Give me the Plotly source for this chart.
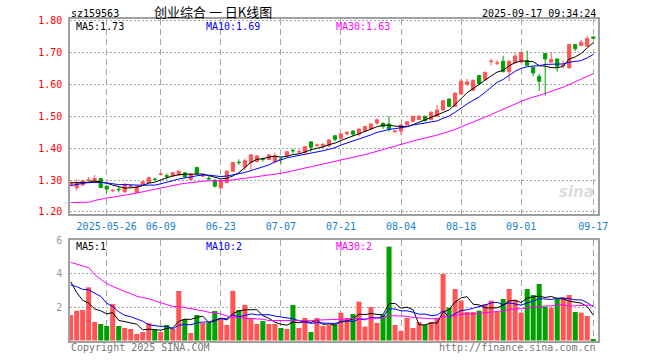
import plotly.graph_objects as go
import pandas as pd

# ---------------- data ----------------
dates = [
    "2025-05-16", "2025-05-19", "2025-05-20", "2025-05-21", "2025-05-22", "2025-05-23",
    "2025-05-26", "2025-05-27", "2025-05-28", "2025-05-29", "2025-05-30",
    "2025-06-03", "2025-06-04", "2025-06-05", "2025-06-06", "2025-06-09", "2025-06-10",
    "2025-06-11", "2025-06-12", "2025-06-13", "2025-06-16", "2025-06-17", "2025-06-18",
    "2025-06-19", "2025-06-20", "2025-06-23", "2025-06-24", "2025-06-25", "2025-06-26",
    "2025-06-27", "2025-06-30",
    "2025-07-01", "2025-07-02", "2025-07-03", "2025-07-04", "2025-07-07", "2025-07-08",
    "2025-07-09", "2025-07-10", "2025-07-11", "2025-07-14", "2025-07-15", "2025-07-16",
    "2025-07-17", "2025-07-18", "2025-07-21", "2025-07-22", "2025-07-23", "2025-07-24",
    "2025-07-25", "2025-07-28", "2025-07-29", "2025-07-30", "2025-07-31",
    "2025-08-01", "2025-08-04", "2025-08-05", "2025-08-06", "2025-08-07", "2025-08-08",
    "2025-08-11", "2025-08-12", "2025-08-13", "2025-08-14", "2025-08-15", "2025-08-18",
    "2025-08-19", "2025-08-20", "2025-08-21", "2025-08-22", "2025-08-25", "2025-08-26",
    "2025-08-27", "2025-08-28", "2025-08-29",
    "2025-09-01", "2025-09-02", "2025-09-03", "2025-09-04", "2025-09-05", "2025-09-08",
    "2025-09-09", "2025-09-10", "2025-09-11", "2025-09-12", "2025-09-15", "2025-09-16",
    "2025-09-17",
]

opens = [
    1.284, 1.276, 1.285, 1.299, 1.295, 1.305, 1.281, 1.267, 1.271, 1.263,
    1.279, 1.261, 1.284, 1.292, 1.303, 1.318, 1.314, 1.313, 1.316, 1.323,
    1.302, 1.340, 1.312, 1.306, 1.300, 1.276, 1.292, 1.328, 1.356, 1.341,
    1.356, 1.358, 1.366, 1.365, 1.358, 1.366, 1.376, 1.393, 1.388, 1.386,
    1.420, 1.409, 1.405, 1.407, 1.439, 1.431, 1.445, 1.454, 1.444, 1.454,
    1.460, 1.479, 1.478, 1.476, 1.452, 1.454, 1.473, 1.484, 1.490, 1.500,
    1.490, 1.500, 1.520, 1.554, 1.531, 1.570, 1.600, 1.582, 1.628, 1.615,
    1.672, 1.667, 1.673, 1.640, 1.668, 1.670, 1.675, 1.654, 1.625, 1.697,
    1.670, 1.680, 1.659, 1.652, 1.725, 1.722, 1.720, 1.749,
]
highs = [
    1.296, 1.302, 1.300, 1.310, 1.316, 1.306, 1.283, 1.272, 1.279, 1.290,
    1.285, 1.283, 1.297, 1.311, 1.308, 1.323, 1.321, 1.325, 1.330, 1.324,
    1.321, 1.341, 1.320, 1.315, 1.301, 1.299, 1.330, 1.357, 1.365, 1.368,
    1.381, 1.378, 1.371, 1.381, 1.386, 1.373, 1.391, 1.399, 1.396, 1.407,
    1.421, 1.415, 1.417, 1.428, 1.440, 1.447, 1.453, 1.456, 1.462, 1.470,
    1.478, 1.493, 1.481, 1.500, 1.457, 1.475, 1.485, 1.502, 1.505, 1.502,
    1.515, 1.536, 1.551, 1.556, 1.575, 1.618, 1.618, 1.615, 1.630, 1.640,
    1.680, 1.677, 1.690, 1.675, 1.700, 1.702, 1.706, 1.657, 1.634, 1.698,
    1.700, 1.681, 1.675, 1.727, 1.727, 1.740, 1.752, 1.750,
]
lows = [
    1.280, 1.268, 1.281, 1.290, 1.291, 1.276, 1.260, 1.262, 1.261, 1.262,
    1.275, 1.258, 1.282, 1.290, 1.298, 1.314, 1.302, 1.311, 1.314, 1.308,
    1.300, 1.318, 1.310, 1.298, 1.277, 1.272, 1.290, 1.326, 1.347, 1.331,
    1.331, 1.356, 1.358, 1.363, 1.353, 1.351, 1.374, 1.384, 1.382, 1.384,
    1.389, 1.404, 1.403, 1.405, 1.421, 1.429, 1.440, 1.437, 1.437, 1.452,
    1.458, 1.474, 1.461, 1.452, 1.448, 1.441, 1.471, 1.482, 1.488, 1.484,
    1.488, 1.498, 1.518, 1.529, 1.529, 1.568, 1.595, 1.580, 1.600, 1.613,
    1.660, 1.660, 1.638, 1.610, 1.666, 1.668, 1.658, 1.626, 1.580, 1.565,
    1.668, 1.640, 1.650, 1.650, 1.705, 1.720, 1.718, 1.744,
]
closes = [
    1.292, 1.292, 1.298, 1.300, 1.305, 1.277, 1.272, 1.268, 1.270, 1.287,
    1.282, 1.281, 1.295, 1.308, 1.302, 1.319, 1.312, 1.323, 1.328, 1.310,
    1.319, 1.320, 1.318, 1.304, 1.281, 1.297, 1.328, 1.355, 1.355, 1.361,
    1.379, 1.376, 1.365, 1.379, 1.376, 1.365, 1.389, 1.392, 1.389, 1.405,
    1.403, 1.410, 1.412, 1.426, 1.428, 1.445, 1.450, 1.444, 1.460, 1.468,
    1.476, 1.489, 1.468, 1.460, 1.454, 1.473, 1.483, 1.500, 1.500, 1.486,
    1.513, 1.520, 1.549, 1.531, 1.573, 1.610, 1.608, 1.613, 1.602, 1.638,
    1.673, 1.668, 1.640, 1.673, 1.689, 1.700, 1.660, 1.636, 1.610, 1.680,
    1.678, 1.657, 1.660, 1.725, 1.712, 1.732, 1.744, 1.745,
]
volumes = [
    1.53, 1.79, 1.83, 3.19, 1.11, 0.99, 0.87, 2.19, 0.87, 0.75,
    0.69, 0.39, 0.51, 1.05, 0.63, 0.51, 0.93, 0.69, 2.97, 1.29,
    0.45, 1.53, 1.05, 1.05, 1.77, 1.35, 0.93, 2.97, 1.83, 2.13,
    1.35, 0.99, 1.17, 0.99, 0.99, 0.75, 0.69, 2.13, 0.75, 1.35,
    0.51, 1.35, 0.87, 0.93, 0.96, 1.67, 1.35, 1.59, 2.33, 0.83,
    2.01, 1.05, 1.53, 5.63, 0.93, 0.57, 1.35, 0.75, 1.11, 0.93,
    1.11, 1.35, 3.99, 1.97, 3.09, 2.39, 1.71, 1.71, 1.79, 2.19,
    2.39, 1.71, 2.49, 3.09, 2.43, 1.67, 3.09, 2.73, 3.39, 2.03,
    1.97, 2.49, 2.59, 2.73, 1.71, 1.67, 1.47, 0.09,
]

# earlier sessions (2025-04-01 .. 2025-05-15), off-screen, implied by the MA lines
prior_closes = [
    1.290, 1.295, 1.280, 1.140, 1.150, 1.170, 1.190, 1.185, 1.185, 1.185,
    1.175, 1.175, 1.180, 1.190, 1.195, 1.205, 1.205, 1.210, 1.225, 1.235,
    1.250, 1.270, 1.275, 1.290, 1.285, 1.290, 1.290, 1.300, 1.285,
]
prior_volumes = [
    5.0, 5.0, 6.0, 14.0, 9.0, 9.0, 7.0, 6.0, 5.0, 4.5,
    5.0, 3.0, 3.0, 4.5, 4.2, 5.0, 3.0, 3.0, 3.0, 3.0,
    2.8, 3.5, 3.4, 3.2, 2.8, 5.0, 4.2, 4.0, 2.9,
]

tick_dates = ["2025-05-26", "2025-06-09", "2025-06-23", "2025-07-07", "2025-07-21",
              "2025-08-04", "2025-08-18", "2025-09-01", "2025-09-17"]
tick_text = ["2025-05-26", "06-09", "06-23", "07-07", "07-21", "08-04", "08-18", "09-01", "09-17"]
price_ticks = [1.20, 1.30, 1.40, 1.50, 1.60, 1.70, 1.80]
vol_ticks = [2, 4, 6]

symbol = "sz159563"
title_text = "创业综合 一 日K线图"
stamp = "2025-09-17 09:34:24"

# ---------------- derived ----------------
n_prior = len(prior_closes)
cs = pd.Series(prior_closes + closes)
vs = pd.Series(prior_volumes + volumes)
ma = {w: cs.rolling(w).mean().iloc[n_prior:].tolist() for w in (5, 10, 30)}
vma = {w: vs.rolling(w).mean().iloc[n_prior:].tolist() for w in (5, 10, 30)}

RED = "#ff5555"
GREEN = "#00a000"
ma_colors = {5: "#000000", 10: "#0000ff", 30: "#ff00ff"}
vol_colors = [RED if c >= o else GREEN for o, c in zip(opens, closes)]

MONO = "DejaVu Sans Mono"
GRID = "#a8a8a8"
BORDER = "#a0a0a0"

W, H = 660, 360
# plot-area frame in page pixels
L, R, T, B = 70, 598, 19, 341
PRICE_RANGE = [1.1937, 1.8053]
VOL_RANGE = [-0.03, 6.03]


def px(x):
    return (x - L) / (R - L)


def py(y):
    return (B - y) / (B - T)


fig = go.Figure()

fig.add_trace(go.Candlestick(
    x=dates, open=opens, high=highs, low=lows, close=closes,
    increasing=dict(line=dict(color=RED, width=1), fillcolor=RED),
    decreasing=dict(line=dict(color=GREEN, width=1), fillcolor=GREEN),
    whiskerwidth=0, xaxis="x", yaxis="y", showlegend=False, hoverinfo="skip",
))
for w in (5, 10, 30):
    fig.add_trace(go.Scatter(
        x=dates, y=ma[w], mode="lines", line=dict(color=ma_colors[w], width=1),
        xaxis="x", yaxis="y", showlegend=False, hoverinfo="skip",
    ))

fig.add_trace(go.Bar(
    x=dates, y=volumes, marker=dict(color=vol_colors, line=dict(width=0)),
    xaxis="x2", yaxis="y2", showlegend=False, hoverinfo="skip",
))
for w in (5, 10, 30):
    fig.add_trace(go.Scatter(
        x=dates, y=vma[w], mode="lines", line=dict(color=ma_colors[w], width=1),
        xaxis="x2", yaxis="y2", showlegend=False, hoverinfo="skip",
    ))

price_dom = [py(214), 1.0]
vol_dom = [0.0, py(240)]

xr = [-0.11, 87.79]
common_x = dict(
    type="category", range=xr, tickmode="array", tickvals=tick_dates,
    categoryorder="array", categoryarray=dates,
    showgrid=True, gridcolor=GRID, gridwidth=1, griddash="6px,4px",
    automargin=False,
    showline=True, mirror=True, linecolor=BORDER, linewidth=1.5,
    zeroline=False, ticks="",
)
common_y = dict(
    tickmode="array", showgrid=True, gridcolor=GRID, gridwidth=1, griddash="2px,2px",
    showline=True, mirror=True, linecolor=BORDER, linewidth=1.5, automargin=False,
    zeroline=False, ticks="", ticklabelstandoff=4,
)

fig.update_layout(
    template="none",
    width=W, height=H,
    margin=dict(l=L, r=W - R, t=T, b=H - B, pad=0, autoexpand=False),
    paper_bgcolor="white", plot_bgcolor="rgba(0,0,0,0)",
    boxgap=0.25, bargap=0.16,
    font=dict(family=MONO, size=10, color="#000"),
    xaxis=dict(
        **common_x, anchor="y", ticktext=tick_text, showticklabels=True,
        tickfont=dict(family=MONO, size=10, color="#1a7fd0"),
        rangeslider=dict(visible=False), ticklabelstandoff=2,
    ),
    xaxis2=dict(**common_x, anchor="y2", matches="x", showticklabels=False),
    yaxis=dict(
        **common_y, domain=price_dom, range=PRICE_RANGE,
        tickvals=price_ticks, ticktext=[f"{v:.2f}" for v in price_ticks],
        tickfont=dict(family=MONO, size=10, color="#ff0000"), anchor="x",
    ),
    yaxis2=dict(
        **common_y, domain=vol_dom, range=VOL_RANGE,
        tickvals=vol_ticks, ticktext=[str(v) for v in vol_ticks],
        tickfont=dict(family=MONO, size=10, color="#999999"), anchor="x2",
    ),
)


def label(text, x, y, anchor="left", color="#000", size=10, family=MONO):
    fig.add_annotation(
        text=text, x=px(x), y=py(y), xref="paper", yref="paper",
        xanchor=anchor, yanchor="middle", showarrow=False,
        font=dict(family=family, size=size, color=color),
    )


label(symbol, 69, 13)
label(title_text, 213, 11.5, anchor="center", size=13, family="Noto Sans CJK SC")
label(stamp, 598, 13, anchor="right")

label(f"MA5:{ma[5][-1]:.2f}", 74, 26.5, color=ma_colors[5])
label(f"MA10:{ma[10][-1]:.2f}", 204, 26.5, color=ma_colors[10])
label(f"MA30:{ma[30][-1]:.2f}", 334, 26.5, color=ma_colors[30])

label(f"MA5:{int(vma[5][-1])}", 74, 246, color=ma_colors[5])
label(f"MA10:{int(vma[10][-1])}", 204, 246, color=ma_colors[10])
label(f"MA30:{int(vma[30][-1])}", 334, 246, color=ma_colors[30])

label("Copyright 2025 SINA.COM", 69, 347, color="#777777")
label("http://finance.sina.com.cn", 598, 347, anchor="right", color="#777777")
label("<i><b>sina</b></i>", 576, 192, anchor="center", color="#dddddd", size=15,
      family="DejaVu Sans")

# the page's default 8px body margin is removed so the figure sits at (0, 0)
fig.write_html("out.html", config={"displayModeBar": False},
               post_script="document.body.style.margin='0px';")
